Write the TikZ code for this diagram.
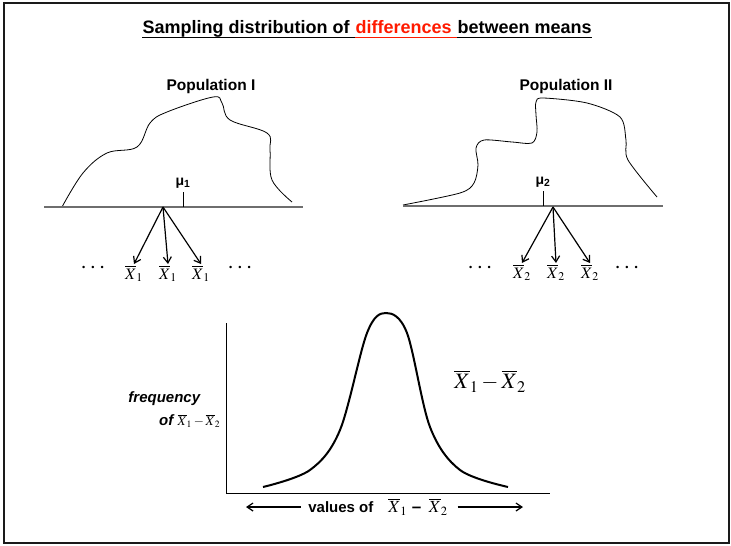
\documentclass[tikz,border=0pt]{standalone}
\usepackage{mathptmx}
\usepackage{fontspec}
\setmainfont{Liberation Sans}
\usetikzlibrary{arrows.meta,positioning}
\definecolor{frame}{HTML}{1A1A1A}
\definecolor{axisgray}{HTML}{6E6E6E}
\definecolor{titlered}{HTML}{FF1A00}
\newcommand{\xb}[1]{\ensuremath{\overline{X}_{#1}}}

\begin{document}
\begin{tikzpicture}[x=1pt,y=-1pt,line width=1pt,
    titlepart/.style={font=\fontsize{18}{18}\selectfont\bfseries, inner sep=0pt},
    poplabel/.style={font=\fontsize{15.5}{15.5}\selectfont\bfseries},
    mulabel/.style={font=\fontsize{14}{14}\selectfont\bfseries},
    xblabel/.style={font=\fontsize{16}{16}\selectfont, inner sep=1pt},
    dotlabel/.style={font=\fontsize{24}{24}\selectfont},
    draw arrow/.style={-{Straight Barb[length=6pt,width=8pt]}, line width=1.2pt}]
  \useasboundingbox (0,0) rectangle (731,546);
  % outer frame
  \draw[frame, line width=2pt] (4,3) rectangle (729,543);
  % heading, underlined in three parts
  \node[titlepart, anchor=base west] (t1) at (142,34) {Sampling distribution of\kern0.28em};
  \node[titlepart, anchor=base west, text=titlered] (t2) at (t1.base east) {differences\kern0.28em};
  \node[titlepart, anchor=base west] (t3) at (t2.base east) {between means};
  \draw[line width=1.6pt] ([yshift=-3.5pt]t1.base west) -- ([yshift=-3.5pt]t1.base east);
  \draw[titlered, line width=1.6pt] ([yshift=-3.5pt]t2.base west) -- ([yshift=-3.5pt]t2.base east);
  \draw[line width=1.6pt] ([yshift=-3.5pt]t3.base west) -- ([yshift=-3.5pt]t3.base east);

  % population I
  \node[poplabel] (pop1) at (211,86) {Population I};
  \draw[line width=0.8pt] plot[smooth, tension=0.6] coordinates {(62,207) (83,173) (107,153) (137,147)
    (150,123) (167,112) (213,97) (222,103) (230,120) (267,133) (270,150) (272,180) (292,202)};
  \draw[axisgray, line width=1.2pt] (44,207) -- (303,207);
  \draw[line width=1pt] (183,207) -- (183,192);
  \node[mulabel] (mu1) at (183,183) {μ\textsubscript{1}};
  \coordinate (s1) at (163,207);
  \foreach \n/\x in {a1/134, a2/168, a3/201}{
    \node[xblabel, anchor=north] (\n) at (\x,264) {\xb{1}};
    \draw[draw arrow] (s1) -- (\n.north);
  }
  \node[dotlabel] (dl1) at (93,268) {$\cdots$};
  \node[dotlabel] (dr1) at (240,268) {$\cdots$};

  % population II
  \node[poplabel] (pop2) at (566,86) {Population II};
  \draw[line width=0.8pt] plot[smooth, tension=0.5] coordinates {(403,205) (460,193) (474,183) (478,165)
    (476,148) (484,140) (512,142) (532,143) (537,132) (536,115) (536,102) (543,98) (587,103) (620,117)
    (626,140) (628,160) (657,197)};
  \draw[axisgray, line width=1.2pt] (403,206) -- (663,206);
  \draw[line width=1pt] (543,206) -- (543,191);
  \node[mulabel] (mu2) at (543,182) {μ\textsubscript{2}};
  \coordinate (s2) at (553,207);
  \foreach \n/\x in {b1/522, b2/556, b3/590}{
    \node[xblabel, anchor=north] (\n) at (\x,263) {\xb{2}};
    \draw[draw arrow] (s2) -- (\n.north);
  }
  \node[dotlabel] (dl2) at (480,268) {$\cdots$};
  \node[dotlabel] (dr2) at (627,268) {$\cdots$};

  % sampling distribution of the difference
  \coordinate (origin) at (226,493);
  \draw[line width=1pt] (226,323) -- (origin) -- (550,493);
  \draw[line width=2pt] plot[smooth, tension=0.55] coordinates {(263,487) (310,470) (340,430) (367,333)
    (386,313) (407,333) (430,427) (460,470) (508,487)};
  \node (diff) at (490,381) {\fontsize{22}{22}\selectfont$\overline{X}_1-\overline{X}_2$};
  \node[font=\fontsize{15}{15}\selectfont\bfseries\itshape, anchor=east] (freq) at (204,399) {frequency};
  \node[font=\fontsize{15}{15}\selectfont\bfseries\itshape, anchor=east] (freqof) at (224,421)
    {of \fontsize{13}{13}\selectfont$\overline{X}_1-\overline{X}_2$};

  % axis caption with arrows
  \node[font=\fontsize{15}{15}\selectfont] (values) at (378,507)
    {\textbf{values of}\quad \fontsize{17}{17}\selectfont$\overline{X}_1$ \textbf{–} \,$\overline{X}_2$};
  \coordinate (lend) at (246,507);
  \coordinate (rend) at (523,507);
  \draw[draw arrow] ([xshift=-4pt]values.west) -- (lend);
  \draw[draw arrow] ([xshift=6pt]values.east) -- (rend);
\end{tikzpicture}
\end{document}
